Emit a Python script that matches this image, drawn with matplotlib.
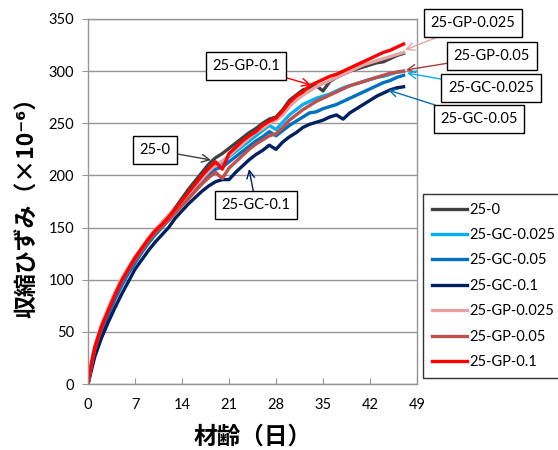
import matplotlib
matplotlib.use("Agg")
import matplotlib.pyplot as plt

plt.rcParams['font.family'] = ['Lato', 'Noto Sans CJK JP', 'DejaVu Sans']

# age (days)
days = [0, 0.5] + list(range(1, 48))

# shrinkage strain (x10^-6)
s_25_0 = [0, 18, 33, 54, 70, 85, 98, 110, 120, 130, 139, 147, 154, 161, 169, 178, 187, 195, 203, 211,
          217, 221, 226, 231, 236, 241, 245, 250, 254, 256, 263, 272, 277, 282, 284, 286, 281, 290, 294,
          297, 300, 302, 304, 306, 308, 309, 312, 315, 317]
s_gc_0025 = [0, 17, 32, 52, 68, 83, 96, 107, 118, 128, 137, 145, 152, 159, 167, 175, 183, 190, 197, 204,
             210, 212, 218, 223, 228, 233, 238, 243, 248, 244, 251, 258, 263, 268, 271, 274, 276, 278, 281,
             284, 286, 288, 290, 292, 294, 295, 297, 299, 300]
s_gc_005 = [0, 16, 30, 50, 66, 81, 94, 106, 116, 126, 135, 143, 150, 157, 165, 172, 180, 187, 194, 200,
            206, 208, 213, 218, 223, 228, 233, 237, 242, 238, 243, 248, 252, 256, 260, 261, 264, 266, 268,
            271, 274, 277, 280, 283, 286, 289, 291, 294, 296]
s_gc_01 = [0, 13, 26, 44, 59, 73, 86, 98, 110, 119, 128, 136, 143, 150, 159, 166, 173, 179, 185, 190,
           194, 196, 196, 203, 209, 215, 220, 224, 229, 225, 232, 237, 241, 246, 249, 251, 253, 256, 258,
           254, 260, 264, 268, 272, 276, 279, 282, 284, 285]
s_gp_0025 = [0, 20, 36, 57, 73, 88, 101, 112, 122, 131, 140, 148, 155, 162, 168, 175, 182, 190, 197, 204,
             210, 214, 219, 225, 230, 236, 241, 245, 250, 253, 258, 266, 272, 277, 281, 285, 288, 291, 294,
             297, 300, 303, 306, 308, 310, 312, 314, 316, 318]
s_gp_005 = [0, 18, 33, 54, 70, 85, 98, 109, 119, 128, 137, 145, 151, 157, 164, 171, 178, 185, 192, 198,
            203, 197, 207, 213, 219, 225, 230, 234, 238, 240, 246, 253, 258, 263, 267, 271, 274, 277, 280,
            283, 286, 288, 290, 292, 294, 296, 298, 299, 300]
s_gp_01 = [0, 20, 35, 55, 70, 85, 99, 110, 121, 130, 139, 147, 153, 160, 168, 176, 184, 192, 200, 207,
           213, 206, 221, 227, 233, 238, 242, 248, 252, 255, 262, 270, 276, 280, 286, 289, 292, 295, 297,
           300, 303, 306, 309, 312, 315, 318, 320, 323, 326]

labels = ['25-0', '25-GC-0.025', '25-GC-0.05', '25-GC-0.1', '25-GP-0.025', '25-GP-0.05', '25-GP-0.1']
series = [s_25_0, s_gc_0025, s_gc_005, s_gc_01, s_gp_0025, s_gp_005, s_gp_01]
colors = ['#404040', '#00B0F0', '#0070C0', '#002060', '#E6A3A1', '#C0504D', '#FF0000']

fig = plt.figure(figsize=(5.58, 4.5), dpi=100)
ax = fig.add_axes([88/558, 1-384/450, 329/558, 365/450])

for vals, lab, c in zip(series, labels, colors):
    ax.plot(days, vals, color=c, lw=2.4, label=lab, solid_joinstyle='round')

ax.set_xlim(0, 49)
ax.set_ylim(0, 350)
ax.set_xticks(range(0, 50, 7))
ax.set_yticks(range(0, 351, 50))
ax.yaxis.grid(True, color='#969696', lw=1.0)
ax.set_axisbelow(True)
for sp in ax.spines.values():
    sp.set_color('#969696')
    sp.set_linewidth(1.0)
ax.tick_params(axis='x', direction='in', length=4, color='#969696', labelsize=10.5, pad=10)
ax.tick_params(axis='y', direction='out', length=4, color='#969696', labelsize=10.5, pad=6)

ax.set_xlabel('材齢（日）', fontsize=17, fontweight='bold', labelpad=9,
              family=['Noto Sans CJK JP', 'DejaVu Sans'])
ax.set_ylabel('収縮ひずみ（×10⁻⁶）', fontsize=16.5, fontweight='bold', labelpad=7,
              family=['Noto Sans CJK JP', 'DejaVu Sans'])

# callouts: (text, box centre px, arrow tip px, colour)
callouts = [
    ('25-GP-0.1', (246, 66), (311, 85), '#FF0000'),
    ('25-0', (155, 150), (211, 160), '#404040'),
    ('25-GC-0.1', (256, 205), (249, 169), '#002060'),
    ('25-GP-0.025', (473, 23), (405, 50), '#E6A3A1'),
    ('25-GP-0.05', (492, 56), (406, 70), '#A0403D'),
    ('25-GC-0.025', (491, 88), (407, 73), '#00B0F0'),
    ('25-GC-0.05', (479, 119), (388, 90), '#0070C0'),
]
for txt, (bx, by), (tx, ty), c in callouts:
    ax.annotate(txt, xy=(tx/558, 1-ty/450), xycoords='figure fraction',
                xytext=(bx/558, 1-by/450), textcoords='figure fraction',
                ha='center', va='center', fontsize=10.5, annotation_clip=False,
                bbox=dict(boxstyle='square,pad=0.45', fc='white', ec='black', lw=1.0),
                arrowprops=dict(arrowstyle='->', color=c, lw=1.0, shrinkA=0, shrinkB=0,
                                mutation_scale=14))

leg = ax.legend(loc='upper left', bbox_to_anchor=(423/558, 1-194/450), bbox_transform=fig.transFigure,
                frameon=True, fancybox=False, edgecolor='black', fontsize=10.5, handlelength=2.4,
                handletextpad=0.2, labelspacing=0.78, borderaxespad=0, borderpad=0.6)
leg.get_frame().set_linewidth(1.0)

fig.savefig('out.png', dpi=100)
